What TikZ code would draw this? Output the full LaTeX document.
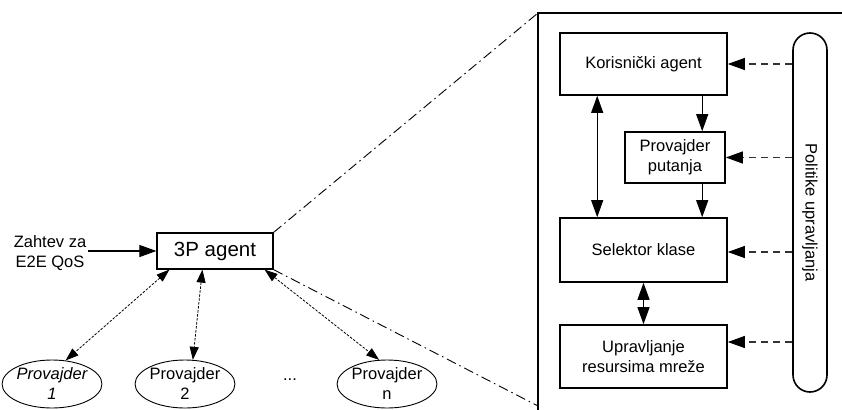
\documentclass[tikz,border=0pt]{standalone}
\usepackage{fontspec}
\setmainfont{Liberation Sans}
\usetikzlibrary{arrows.meta,shapes.geometric,calc}
\begin{document}
\begin{tikzpicture}[x=1pt,y=-1pt,
  txt/.style={font=\fontsize{16.5}{20}\selectfont},
  blk/.style={draw,line width=1.6pt,rectangle,inner sep=0pt,align=center,txt},
  prov/.style={draw,line width=0.9pt,ellipse,minimum width=86pt,minimum height=48pt,inner sep=0pt,align=center,txt},
  bigtip/.tip={Triangle[length=17pt,width=12pt]},
  smalltip/.tip={Triangle[length=13pt,width=9pt]},
  solidarrow/.style={line width=1pt,-bigtip},
  bisolid/.style={line width=1pt,bigtip-bigtip},
  poldash/.style={line width=1.1pt,dash pattern=on 7pt off 5pt,draw=black!80,-{Triangle[length=17pt,width=12pt,color=black]}},
  dotarrow/.style={line width=0.8pt,dash pattern=on 2.5pt off 1.5pt,smalltip-smalltip},
  dashdot/.style={line width=0.9pt,dash pattern=on 10pt off 4pt on 1.5pt off 4pt}
]
\useasboundingbox (0,0) rectangle (842,409);
\clip (0,0) rectangle (842,409);

% left part
\node[draw,line width=1.2pt,rectangle,minimum width=116pt,minimum height=36pt,inner sep=0pt,font=\fontsize{20.5}{24}\selectfont] (agent) at (215,251) {3P agent};
\node[txt,align=center,inner sep=2pt] (req) at (50,253) {Zahtev za\\E2E QoS};
\draw[solidarrow,line width=1.1pt] (req.east |- agent.west) -- (agent.west);

\node[prov] (p1) at (52,384) {\itshape Provajder\\\itshape 1};
\node[prov] (p2) at (185,384) {Provajder\\2};
\node[txt] (dots) at (290,380) {...};
\node[prov] (pn) at (387,384) {Provajder\\n};

\draw[dotarrow] ($(agent.south west)+(13,0)$) -- (p1.60);
\draw[dotarrow] ($(agent.south west)+(46,0)$) -- (p2.72);
\draw[dotarrow] ($(agent.south east)+(-9,0)$) -- (pn.108);

% zoom frame
\coordinate (ftl) at (538,13);
\coordinate (fbl) at (538,420);
\coordinate (ftr) at (850,13);
\draw[line width=2pt] (fbl) -- (ftl) -- (ftr);
\draw[dashdot] (agent.north east) -- (ftl);
\coordinate (fcut) at (538,406);
\draw[dashdot] (agent.south east) -- (fcut);

% right part
\node[blk,minimum width=167pt,minimum height=62pt] (ka) at (643.5,64) {Korisnički agent};
\node[blk,minimum width=100pt,minimum height=51pt] (pp) at (675,157.5) {Provajder\\putanja};
\node[blk,minimum width=167pt,minimum height=64pt] (sk) at (643.5,250) {Selektor klase};
\node[blk,minimum width=167pt,minimum height=63pt] (ur) at (643.5,356.5) {Upravljanje\\resursima mreže};
\node[draw,line width=1.6pt,rectangle,rounded corners=17pt,minimum width=34pt,minimum height=359pt,inner sep=0pt] (pol) at (810,212.5) {};
\node[txt,rotate=-90] (poltxt) at (pol.center) {Politike upravljanja};

\draw[bisolid] ($(ka.south west)+(38,0)$) -- ($(sk.north west)+(38,0)$);
\draw[solidarrow] ($(ka.south west)+(143,0)$) -- ($(pp.north west)+(78,0)$);
\draw[solidarrow] ($(pp.south west)+(78,0)$) -- ($(sk.north west)+(143,0)$);
\draw[bisolid] (sk.south) -- (ur.north);

\draw[poldash] (pol.west |- ka.east) -- (ka.east);
\draw[poldash] (pol.west |- pp.east) -- (pp.east);
\draw[poldash] ($(pol.west |- sk.east)+(0,2)$) -- ($(sk.east)+(0,2)$);
\draw[poldash] ($(pol.west |- ur.east)+(0,-14.5)$) -- ($(ur.east)+(0,-14.5)$);
\end{tikzpicture}
\end{document}
